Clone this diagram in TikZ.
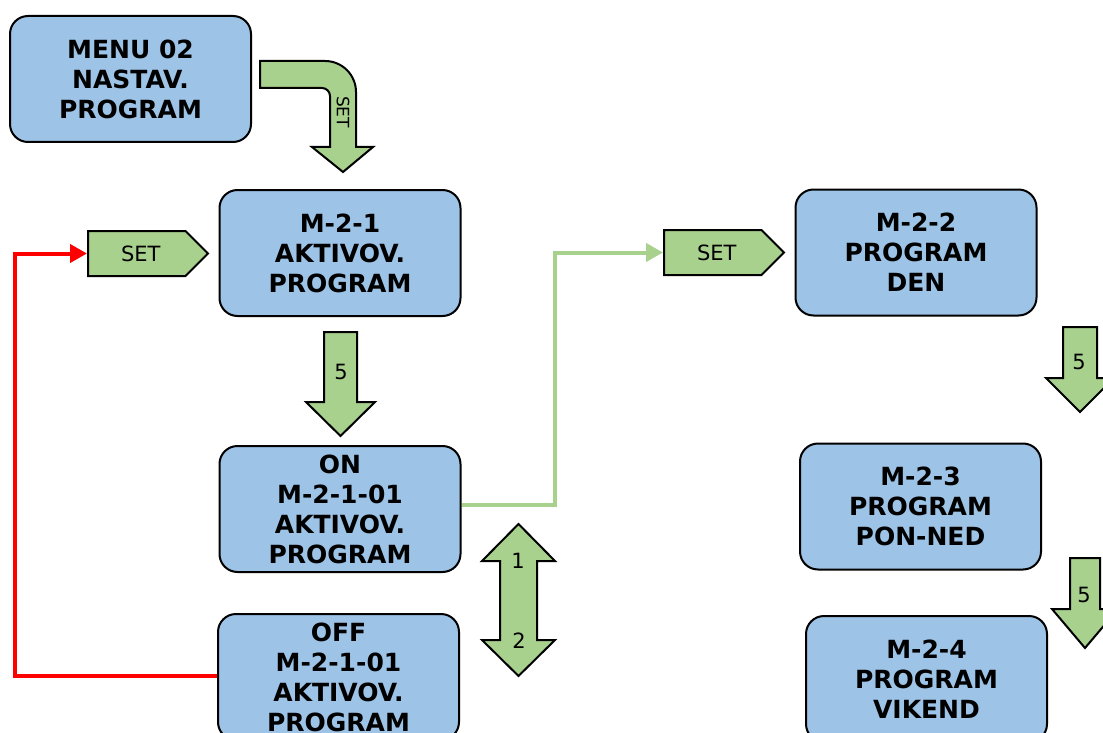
\documentclass[tikz,border=0pt]{standalone}
\usepackage{fontspec}
\setmainfont{DejaVu Sans}
\usepackage{tikz}
\usetikzlibrary{shapes.symbols, arrows.meta, positioning}
\definecolor{MenuBlue}{HTML}{9DC3E6}
\definecolor{KeyGreen}{HTML}{A9D18E}
\definecolor{LoopRed}{HTML}{FF0000}
\tikzset{
  menubox/.style={rectangle, rounded corners=18pt, draw=black, line width=2pt, fill=MenuBlue, minimum width=241pt, minimum height=126pt, font=\fontsize{25}{30}\selectfont\bfseries, align=center, inner sep=0pt},
  keybox/.style={signal, signal to=east, draw=black, line width=2pt, fill=KeyGreen, minimum width=120pt, minimum height=45pt, font=\fontsize{21}{22}\selectfont, inner sep=0pt, anchor=west},
  keyarrow/.style={draw=black, line width=2pt, fill=KeyGreen, line join=miter},
  keylabel/.style={font=\fontsize{21}{22}\selectfont, inner sep=0pt},
  redline/.style={-{Triangle[length=17pt,width=18pt]}, line width=4pt, LoopRed},
  greenline/.style={-{Triangle[length=17pt,width=18pt]}, line width=4pt, KeyGreen}
}
\begin{document}
\begin{tikzpicture}[x=1pt, y=-1pt]
  \useasboundingbox (0,0) rectangle (1103,733);

  % menu boxes
  \node[menubox] (menu) at (130.5,79) {MENU 02\\NASTAV.\\PROGRAM};
  \node[menubox] (m21) at (340,253) {M-2-1\\AKTIVOV.\\PROGRAM};
  \node[menubox] (on) at (340,509) {ON\\M-2-1-01\\AKTIVOV.\\PROGRAM};
  \node[menubox] (off) at (338.5,677) {OFF\\M-2-1-01\\AKTIVOV.\\PROGRAM};
  \node[menubox] (m22) at (916,252.5) {M-2-2\\PROGRAM\\DEN};
  \node[menubox] (m23) at (920.5,506.5) {M-2-3\\PROGRAM\\PON-NED};
  \node[menubox] (m24) at (926.5,679) {M-2-4\\PROGRAM\\VIKEND};

  % SET keys
  \node[keybox] (setL) at (87,253.5) {\hspace*{8pt}SET};
  \node[keybox] (setR) at (663,252.5) {\hspace*{8pt}SET};

  % bent SET arrow
  \draw[keyarrow] (260,61) -- (325,61) arc[start angle=-90, end angle=0, radius=31]
    -- (356,147) -- (373,147) -- (343,172) -- (312,147) -- (330,147) -- (330,96)
    arc[start angle=0, end angle=-90, radius=8] -- (260,88) -- cycle;
  \node[keylabel, font=\fontsize{17}{18}\selectfont, rotate=-90] (setbend) at (343,112) {SET};

  % key 5 arrows
  \draw[keyarrow] (324,332) -- (357,332) -- (357,402) -- (375,402) -- (340.5,436) -- (306,402) -- (324,402) -- cycle;
  \node[keylabel] (five1) at (341,372) {5};
  \draw[keyarrow] (1063,327) -- (1097,327) -- (1097,378) -- (1114,378) -- (1080,412) -- (1046,378) -- (1063,378) -- cycle;
  \node[keylabel] (five2) at (1079,362) {5};
  \draw[keyarrow] (1070,558) -- (1100,558) -- (1100,609) -- (1118,609) -- (1085,648) -- (1052,609) -- (1070,609) -- cycle;
  \node[keylabel] (five3) at (1084,595) {5};

  % keys 1 and 2
  \draw[keyarrow] (518.5,524) -- (555,561) -- (537,561) -- (537,640) -- (555,640) -- (518.5,676)
    -- (482,640) -- (500,640) -- (500,561) -- (482,561) -- cycle;
  \node[keylabel] (one) at (518,561) {1};
  \node[keylabel] (two) at (519,641) {2};

  % connectors
  \coordinate (redturn) at (15,676);
  \draw[redline] (off.west |- redturn) -- (redturn) |- (setL.west);
  \coordinate (greenturn) at (555,505);
  \draw[greenline] (on.east |- greenturn) -- (greenturn) |- (setR.west);
\end{tikzpicture}
\end{document}
